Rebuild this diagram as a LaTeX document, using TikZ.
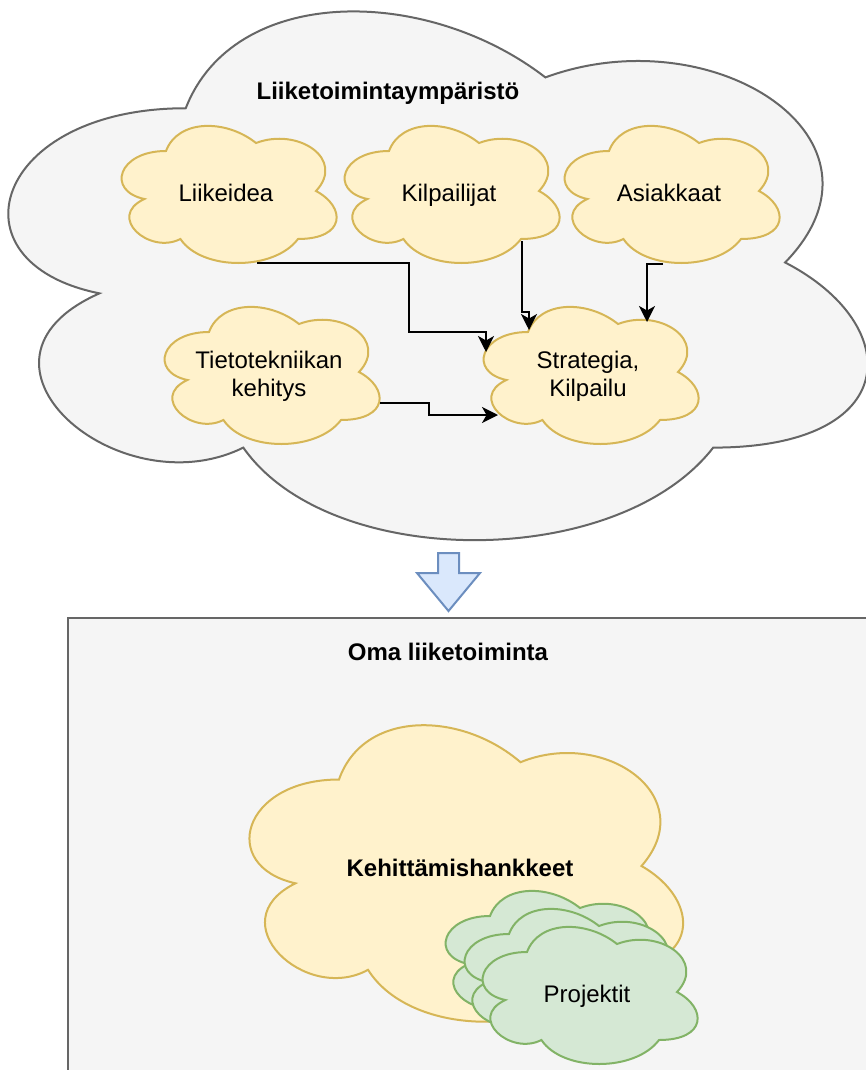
\documentclass[tikz,border=0pt]{standalone}
\usepackage{fontspec}
\setmainfont{Liberation Sans}
\usetikzlibrary{arrows.meta}

\definecolor{envfill}{HTML}{F5F5F5}
\definecolor{envline}{HTML}{666666}
\definecolor{yelfill}{HTML}{FFF2CC}
\definecolor{yelline}{HTML}{D6B656}
\definecolor{grnfill}{HTML}{D5E8D4}
\definecolor{grnline}{HTML}{82B366}
\definecolor{blufill}{HTML}{DAE8FC}
\definecolor{bluline}{HTML}{6C8EBF}

% Cloud outline built from four-lobed Bezier arcs inside the node's box
\makeatletter
\newdimen\dcl@x \newdimen\dcl@y \newdimen\dcl@w \newdimen\dcl@h
\def\dcl@pt#1#2{\pgfpoint{\dcl@x+#1*\dcl@w}{\dcl@y-#2*\dcl@h}}
\pgfdeclareshape{lobecloud}{
  \inheritsavedanchors[from=rectangle]
  \inheritanchorborder[from=rectangle]
  \inheritanchor[from=rectangle]{center}
  \inheritanchor[from=rectangle]{north}
  \inheritanchor[from=rectangle]{south}
  \inheritanchor[from=rectangle]{east}
  \inheritanchor[from=rectangle]{west}
  \inheritanchor[from=rectangle]{north west}
  \inheritanchor[from=rectangle]{north east}
  \inheritanchor[from=rectangle]{south west}
  \inheritanchor[from=rectangle]{south east}
  \backgroundpath{%
    \southwest \dcl@x=\pgf@x \dcl@h=-\pgf@y
    \northeast \dcl@w=\pgf@x \dcl@y=\pgf@y
    \advance\dcl@w by -\dcl@x
    \advance\dcl@h by \dcl@y
    \pgfpathmoveto{\dcl@pt{0.25}{0.25}}
    \pgfpathcurveto{\dcl@pt{0.05}{0.25}}{\dcl@pt{0}{0.5}}{\dcl@pt{0.16}{0.55}}
    \pgfpathcurveto{\dcl@pt{0}{0.66}}{\dcl@pt{0.18}{0.9}}{\dcl@pt{0.31}{0.8}}
    \pgfpathcurveto{\dcl@pt{0.4}{1}}{\dcl@pt{0.7}{1}}{\dcl@pt{0.8}{0.8}}
    \pgfpathcurveto{\dcl@pt{1}{0.8}}{\dcl@pt{1}{0.6}}{\dcl@pt{0.875}{0.5}}
    \pgfpathcurveto{\dcl@pt{1}{0.3}}{\dcl@pt{0.8}{0.1}}{\dcl@pt{0.625}{0.2}}
    \pgfpathcurveto{\dcl@pt{0.5}{0.05}}{\dcl@pt{0.3}{0.05}}{\dcl@pt{0.25}{0.25}}
    \pgfpathclose
  }
}
\makeatother

\newcommand\diagfont{\fontsize{24pt}{28.8pt}\selectfont}
% invisible strut that sets the first line of a two-line label a little lower
\newcommand\firstlinestrut{\rule{0pt}{26pt}}

\begin{document}
\begin{tikzpicture}[x=1pt, y=-1pt,
  font=\diagfont,
  cloudbase/.style={shape=lobecloud, line width=2pt, inner sep=0pt, outer sep=0pt,
    minimum width=240pt, minimum height=160pt, text=black},
  graycloud/.style={cloudbase, draw=envline, fill=envfill},
  yellowcloud/.style={cloudbase, draw=yelline, fill=yelfill},
  greencloud/.style={cloudbase, draw=grnline, fill=grnfill},
  oneline/.style={text height=21pt, text depth=0pt},
  heading/.style={font=\diagfont\bfseries, text=black, inner sep=0pt},
  conn/.style={draw=black, line width=2pt,
    -{Stealth[length=16pt, width=16pt, inset=4.5pt]}},
  flowarrow/.style={draw=bluline, fill=blufill, line width=2pt, line join=miter},
  omabox/.style={draw=envline, fill=envfill, line width=2pt, outer sep=0pt,
    inner sep=0pt, anchor=north west}
]
\useasboundingbox (0,0) rectangle (866,1070);
\fill[white] (0,0) rectangle (866,1070);
\clip (0,0) rectangle (866,1070);

% business environment
\node[graycloud, minimum width=959pt, minimum height=617pt] (env) at (425.5,262.5) {};
\node[heading] (envtitle) at (388,93) {Liiketoimintaympäristö};

\node[yellowcloud, oneline] (liik) at (226,191) {Liikeidea};
\node[yellowcloud, oneline] (kilp) at (449,191) {Kilpailijat};
\node[yellowcloud, oneline] (asia) at (669,191) {Asiakkaat};
\node[yellowcloud, align=center] (tieto) at (269,372) {\firstlinestrut Tietotekniikan\\kehitys};
\node[yellowcloud, align=center] (strat) at (588,372) {\firstlinestrut Strategia,\\Kilpailu};

% influences on strategy
\coordinate (s1) at ([xshift=31pt,yshift=-72pt]liik.center);
\coordinate (e1) at ([xshift=-102pt,yshift=20pt]strat.center);
\draw[conn] (s1) -| ([xshift=-77pt,yshift=20pt]e1) -| (e1);

\coordinate (s2) at ([xshift=73pt,yshift=-50pt]kilp.center);
\coordinate (e2) at ([xshift=-59pt,yshift=42pt]strat.center);
\draw[conn] (s2) |- ([yshift=18pt]e2) -- (e2);

\coordinate (s3) at ([xshift=-6pt,yshift=-73pt]asia.center);
\coordinate (e3) at ([xshift=59pt,yshift=50pt]strat.center);
\draw[conn] (s3) -| (e3);

\coordinate (s4) at ([xshift=111pt,yshift=-31pt]tieto.center);
\coordinate (e4) at ([xshift=-90pt,yshift=-43pt]strat.center);
\draw[conn] (s4) -| ([xshift=-69pt]e4) -- (e4);

% own business
\node[omabox, minimum width=900pt, minimum height=500pt] (oma) at (68,618) {};
\node[heading] (omatitle) at (448,652) {Oma liiketoiminta};

% flow from environment to own business
\coordinate (flowtop) at (448.5,553);
\draw[flowarrow] (flowtop) ++(-10.5,0) -- ++(21,0) -- ++(0,20) -- ++(21,0)
  -- ++(-31.5,38) -- ++(-31.5,-38) -- ++(21,0) -- cycle;

\node[yellowcloud, oneline, minimum width=484pt, minimum height=346pt, font=\diagfont\bfseries]
  (kehi) at (460,866) {Kehittämishankkeet};

\node[greencloud] (proj3) at (550,956) {};
\node[greencloud] (proj2) at (569,974) {};
\node[greencloud, oneline] (proj1) at (587,992) {Projektit};
\end{tikzpicture}
\end{document}
